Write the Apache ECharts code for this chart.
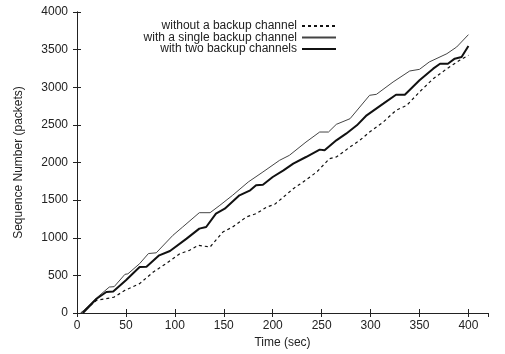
<!DOCTYPE html>
<html>
<head>
<meta charset="utf-8">
<script src="https://cdn.jsdelivr.net/npm/echarts@6/dist/echarts.min.js"></script>
<style>
  html, body { margin: 0; padding: 0; background: #fff; }
  #chart { width: 505px; height: 354px; }
</style>
</head>
<body>
<div id="chart"></div>
<script>
// series names
const seriesNames = ['without a backup channel', 'with a single backup channel', 'with two backup channels']

// without a backup channel (dashed)
const noneTime = [4, 20, 30, 38, 49, 64, 78, 91, 105, 115, 124, 136, 149, 159, 173, 183, 194, 202, 211, 221, 231, 245, 258, 265, 279, 289, 299, 313, 326, 337, 350, 364, 378, 391, 400]
const noneSeq = [0, 168, 190, 212, 301, 390, 545, 656, 788, 833, 899, 877, 1076, 1143, 1276, 1320, 1409, 1444, 1541, 1652, 1741, 1874, 2051, 2073, 2206, 2295, 2405, 2538, 2693, 2760, 2937, 3114, 3247, 3358, 3424]

// with a single backup channel (thin)
const singleTime = [4, 20, 33, 38, 49, 52, 64, 73, 81, 98, 108, 125, 136, 146, 159, 175, 190, 207, 217, 234, 248, 257, 265, 279, 299, 306, 323, 340, 350, 360, 378, 388, 400]
const singleSeq = [0, 200, 345, 350, 514, 520, 656, 790, 800, 1032, 1143, 1333, 1333, 1431, 1564, 1741, 1874, 2029, 2095, 2272, 2405, 2405, 2507, 2582, 2893, 2906, 3070, 3216, 3238, 3336, 3446, 3535, 3699]

// with two backup channels (thick)
const twoTime = [6, 20, 30, 37, 50, 64, 71, 84, 95, 112, 125, 132, 142, 151, 166, 177, 183, 190, 200, 211, 221, 234, 248, 253, 265, 275, 286, 296, 313, 326, 335, 350, 364, 371, 379, 386, 393, 400]
const twoSeq = [0, 190, 279, 285, 434, 611, 615, 766, 824, 988, 1121, 1143, 1320, 1386, 1564, 1630, 1697, 1705, 1807, 1896, 1985, 2073, 2171, 2162, 2295, 2383, 2494, 2627, 2782, 2901, 2901, 3092, 3247, 3313, 3313, 3380, 3402, 3548]

const pairs = (xs, ys) => xs.map((x, i) => [x, ys[i]])

const font = 'Liberation Sans, Arial, sans-serif'
const frame = { lineStyle: { color: '#222', width: 1 } }
const tickIn = { inside: true, length: 4, lineStyle: { color: '#222' } }

const chart = echarts.init(document.getElementById('chart'))

chart.setOption({
  animation: false,
  backgroundColor: '#fff',
  grid: { left: 77, right: 17, top: 12, bottom: 41 },
  legend: {
    orient: 'vertical',
    top: 20,
    right: 168,
    align: 'right',
    itemWidth: 34,
    itemHeight: 10,
    itemGap: -0.5,
    itemStyle: { opacity: 0 },
    textStyle: { fontFamily: font, fontSize: 12, color: '#222' },
    padding: 0,
    selectedMode: false
  },
  xAxis: [
    {
      type: 'value', min: 0, max: 420, interval: 50,
      name: 'Time (sec)', nameLocation: 'middle', nameGap: 23,
      nameTextStyle: { fontFamily: font, fontSize: 12, color: '#222' },
      axisLine: frame, axisTick: tickIn,
      axisLabel: { fontFamily: font, fontSize: 12, color: '#222', margin: 7, showMaxLabel: false, formatter: v => String(v) },
      splitLine: { show: false }
    },
    {
      type: 'value', min: 0, max: 420, interval: 50, position: 'top',
      axisLine: frame, axisTick: tickIn, axisLabel: { show: false }, splitLine: { show: false }
    }
  ],
  yAxis: [
    {
      type: 'value', min: 0, max: 4000, interval: 500,
      name: 'Sequence Number (packets)', nameLocation: 'middle', nameGap: 52,
      nameTextStyle: { fontFamily: font, fontSize: 12, color: '#222' },
      axisLine: { show: true, ...frame }, axisTick: tickIn,
      axisLabel: { fontFamily: font, fontSize: 12, color: '#222', margin: 9, formatter: v => String(v) },
      splitLine: { show: false }
    },
    {
      type: 'value', min: 0, max: 4000, interval: 500, position: 'right',
      axisLine: { show: true, ...frame }, axisTick: tickIn, axisLabel: { show: false }, splitLine: { show: false }
    }
  ],
  series: [
    {
      name: seriesNames[0], type: 'line', symbol: 'none',
      data: pairs(noneTime, noneSeq),
      lineStyle: { color: '#111', width: 1.2, type: [3, 3] },
      itemStyle: { color: '#111' }
    },
    {
      name: seriesNames[1], type: 'line', symbol: 'none',
      data: pairs(singleTime, singleSeq),
      lineStyle: { color: '#444', width: 1 },
      itemStyle: { color: '#444' }
    },
    {
      name: seriesNames[2], type: 'line', symbol: 'none',
      data: pairs(twoTime, twoSeq),
      lineStyle: { color: '#111', width: 2 },
      itemStyle: { color: '#111' }
    }
  ]
})
</script>
</body>
</html>
